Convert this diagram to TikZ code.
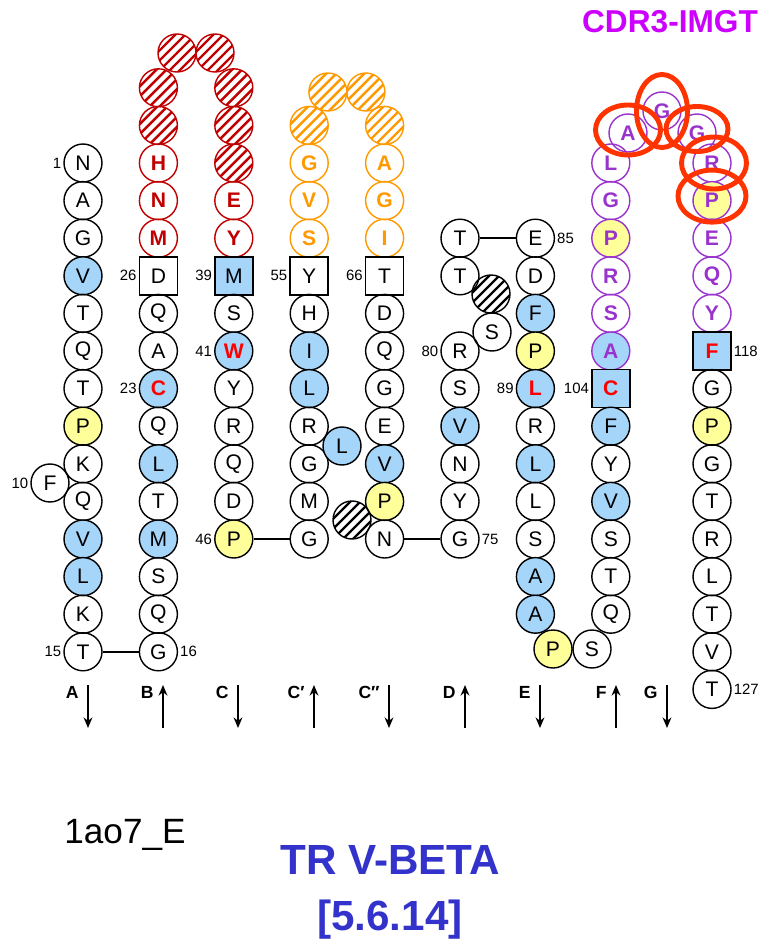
\documentclass[tikz,border=0pt]{standalone}
\usepackage{fontspec}
\setmainfont{Liberation Sans}
\usetikzlibrary{positioning,arrows.meta}

\definecolor{hydblue}{RGB}{166,213,250}
\definecolor{proyellow}{RGB}{255,255,153}
\definecolor{keyred}{RGB}{255,0,0}
\definecolor{cdronered}{RGB}{192,0,0}
\definecolor{cdrtwoorange}{RGB}{255,153,0}
\definecolor{cdrthreeviolet}{RGB}{153,51,204}
\definecolor{ringred}{RGB}{255,51,0}
\definecolor{titlemagenta}{RGB}{204,0,255}
\definecolor{chainblue}{RGB}{51,51,204}

\newcommand\resfont{\fontsize{12}{12}\selectfont}

\begin{document}
\begin{tikzpicture}[
		aa/.style={circle, draw, line width=0.8pt, minimum size=0.76cm, inner sep=0pt, font=\resfont},
		hyd/.style={aa, fill=hydblue},
		pro/.style={aa, fill=proyellow},
		hydkey/.style={hyd, text=keyred, font=\resfont\bfseries},
		sq/.style={rectangle, draw, line width=0.9pt, minimum size=0.76cm, inner sep=0pt, font=\resfont},
		sqhyd/.style={sq, fill=hydblue},
		sqkey/.style={sqhyd, text=keyred, font=\resfont\bfseries},
		cdra/.style={aa, draw=cdronered, text=cdronered, font=\resfont\bfseries},
		cdrb/.style={aa, draw=cdrtwoorange, text=cdrtwoorange, font=\resfont\bfseries},
		cdrc/.style={aa, draw=cdrthreeviolet, text=cdrthreeviolet, font=\resfont\bfseries},
		cdrcpro/.style={cdrc, fill=proyellow},
		cdrchyd/.style={cdrc, fill=hydblue},
		hatch/.style={aa, draw=#1, path picture={
				\foreach \i in {-3,...,3}
					\draw[#1, line width=1.4pt] ([shift={(\i*0.2-0.5,-0.5)}]path picture bounding box.center) -- ++(1,1);}},
		hatchr/.style={hatch=cdronered},
		hatcho/.style={hatch=cdrtwoorange},
		hatchk/.style={hatch=black},
		num/.style={font=\fontsize{8.5}{8.5}\selectfont, inner sep=1pt},
		link/.style={line width=0.9pt},
		lane/.style={line width=1.2pt, -{Stealth[length=6pt,width=5pt]}},
		lanetag/.style={font=\fontsize{10}{10}\selectfont\bfseries, inner sep=0pt, anchor=east},
		ring/.style={draw=ringred, line width=2.8pt}
	]
	\useasboundingbox (0,0) rectangle (15.34,-18.94);

	% strand A
	\foreach \r/\s [count=\k from 0] in {N/aa,A/aa,G/aa,V/hyd,T/aa,Q/aa,T/aa,P/pro,K/aa,Q/aa,V/hyd,L/hyd,K/aa,T/aa}
		\node[\s] (A\k) at (1.66,{-3.26-0.752*\k}) {\r};
	\node[aa] (Abulge) at (1.0,-9.66) {F};

	% strand B and CDR1
	\foreach \r/\s [count=\k from -2] in {{}/hatchr,{}/hatchr,H/cdra,N/cdra,M/cdra,D/sq,Q/aa,A/aa,C/hydkey,Q/aa,L/hyd,T/aa,M/hyd,S/aa,Q/aa,G/aa}
		\node[\s] (B\k) at (3.168,{-3.26-0.752*\k}) {\r};
	\node[hatchr] (BCtop1) at (3.54,-1.06) {};
	\node[hatchr] (BCtop2) at (4.30,-1.06) {};

	% strand C
	\foreach \r/\s [count=\k from -2] in {{}/hatchr,{}/hatchr,{}/hatchr,E/cdra,Y/cdra,M/sqhyd,S/aa,W/hydkey,Y/aa,R/aa,Q/aa,D/aa,P/pro}
		\node[\s] (C\k) at (4.676,{-3.26-0.752*\k}) {\r};

	% strands C' and C'' with CDR2
	\foreach \r/\s [count=\k from -1] in {{}/hatcho,G/cdrb,V/cdrb,S/cdrb,Y/sq,H/aa,I/hyd,L/hyd,R/aa,G/aa,M/aa,G/aa}
		\node[\s] (Cp\k) at (6.184,{-3.26-0.752*\k}) {\r};
	\node[hyd] (Cpbulge) at (6.84,-8.92) {L};
	\node[hatcho] (CCtop1) at (6.558,-1.84) {};
	\node[hatcho] (CCtop2) at (7.318,-1.84) {};
	\foreach \r/\s [count=\k from -1] in {{}/hatcho,A/cdrb,G/cdrb,I/cdrb,T/sq,D/aa,Q/aa,G/aa,E/aa,V/hyd,P/pro,N/aa}
		\node[\s] (Cpp\k) at (7.692,{-3.26-0.752*\k}) {\r};
	\node[hatchk] (Cppbulge) at (7.04,-10.40) {};

	% strand D
	\foreach \r/\s [count=\k from 2] in {T/aa,T/aa}
		\node[\s] (D\k) at (9.2,{-3.26-0.752*\k}) {\r};
	\foreach \r/\s [count=\k from 5] in {R/aa,S/aa,V/hyd,N/aa,Y/aa,G/aa}
		\node[\s] (D\k) at (9.2,{-3.26-0.752*\k}) {\r};
	\node[hatchk] (Dbulge1) at (9.82,-5.88) {};
	\node[aa] (Dbulge2) at (9.84,-6.64) {S};

	% strand E and EF turn
	\foreach \r/\s [count=\k from 2] in {E/aa,D/aa,F/hyd,P/pro,L/hydkey,R/aa,L/hyd,L/aa,S/aa,A/hyd,A/hyd}
		\node[\s] (E\k) at (10.708,{-3.26-0.752*\k}) {\r};
	\node[pro] (EFturn1) at (11.06,-12.98) {P};
	\node[aa] (EFturn2) at (11.84,-12.98) {S};

	% strand F, CDR3, strand G
	\foreach \r/\s [count=\k from 0] in {L/cdrc,G/cdrc,P/cdrcpro,R/cdrc,S/cdrc,A/cdrchyd,C/sqkey,F/hyd,Y/aa,V/hyd,S/aa,T/aa,Q/aa}
		\node[\s] (F\k) at (12.216,{-3.26-0.752*\k}) {\r};
	\node[cdrc] (FGtop1) at (12.56,-2.66) {A};
	\node[cdrc] (FGtop2) at (13.24,-2.22) {G};
	\node[cdrc] (FGtop3) at (13.94,-2.66) {G};
	\foreach \r/\s [count=\k from 0] in {R/cdrc,P/cdrcpro,E/cdrc,Q/cdrc,Y/cdrc,F/sqkey,G/aa,P/pro,G/aa,T/aa,R/aa,L/aa,T/aa,V/aa,T/aa}
		\node[\s] (G\k) at (14.24,{-3.26-0.752*\k}) {\r};

	% hydrogen-bond links
	\draw[link] (A13) -- (B13);
	\draw[link] (C10) -- (Cp10);
	\draw[link] (Cpp10) -- (D10);
	\draw[link] (D2) -- (E2);

	% position numbers
	\foreach \n/\s/\an/\sd in {1/A0/east/west, 10/Abulge/east/west, 15/A13/east/west, 16/B13/west/east,
			23/B6/east/west, 26/B3/east/west, 39/C3/east/west, 41/C5/east/west, 46/C10/east/west,
			55/Cp3/east/west, 66/Cpp3/east/west, 75/D10/west/east, 80/D5/east/west, 85/E2/west/east,
			89/E6/east/west, 104/F6/east/west, 118/G5/west/east, 127/G14/west/east}
		\node[num, anchor=\an] at (\s.\sd) {\n};

	% strand direction arrows
	\foreach \n/\t/\x/\ya/\yb in {a/A/1.76/-13.70/-14.56, b/B/3.26/-14.56/-13.70, c/C/4.76/-13.70/-14.56,
			cp/C′/6.28/-14.56/-13.70, cpp/C″/7.78/-13.70/-14.56, d/D/9.30/-14.56/-13.70,
			e/E/10.80/-13.70/-14.56, f/F/12.32/-14.56/-13.70, g/G/13.34/-13.70/-14.56} {
		\coordinate (\n from) at (\x,\ya);
		\coordinate (\n to) at (\x,\yb);
		\draw[lane] (\n from) -- (\n to);
		\node[lanetag] (\n tag) at (\x-0.18,-13.84) {\t};
	}

	% circled CDR3 residues
	\draw[ring] ([yshift=0.06cm]FGtop1) ellipse [x radius=0.65, y radius=0.5];
	\draw[ring] (FGtop2) ellipse [x radius=0.51, y radius=0.73];
	\draw[ring] ([yshift=0.08cm]FGtop3) ellipse [x radius=0.62, y radius=0.45];
	\draw[ring] ([xshift=0.04cm]G0) ellipse [x radius=0.65, y radius=0.52];
	\draw[ring] ([yshift=0.09cm]G1) ellipse [x radius=0.68, y radius=0.52];

	% titles
	\node[text=titlemagenta, font=\fontsize{18}{18}\selectfont\bfseries] (cdrtitle) at (13.4,-0.44) {CDR3-IMGT};
	\node[font=\fontsize{20}{20}\selectfont] (chainid) at (2.5,-16.7) {1ao7\_E};
	\node[text=chainblue, font=\fontsize{24}{24}\selectfont\bfseries] (genename) at (7.8,-17.2) {TR V-BETA};
	\node[text=chainblue, font=\fontsize{24}{24}\selectfont\bfseries] (geneclass) at (7.8,-18.4) {[5.6.14]};
\end{tikzpicture}
\end{document}
